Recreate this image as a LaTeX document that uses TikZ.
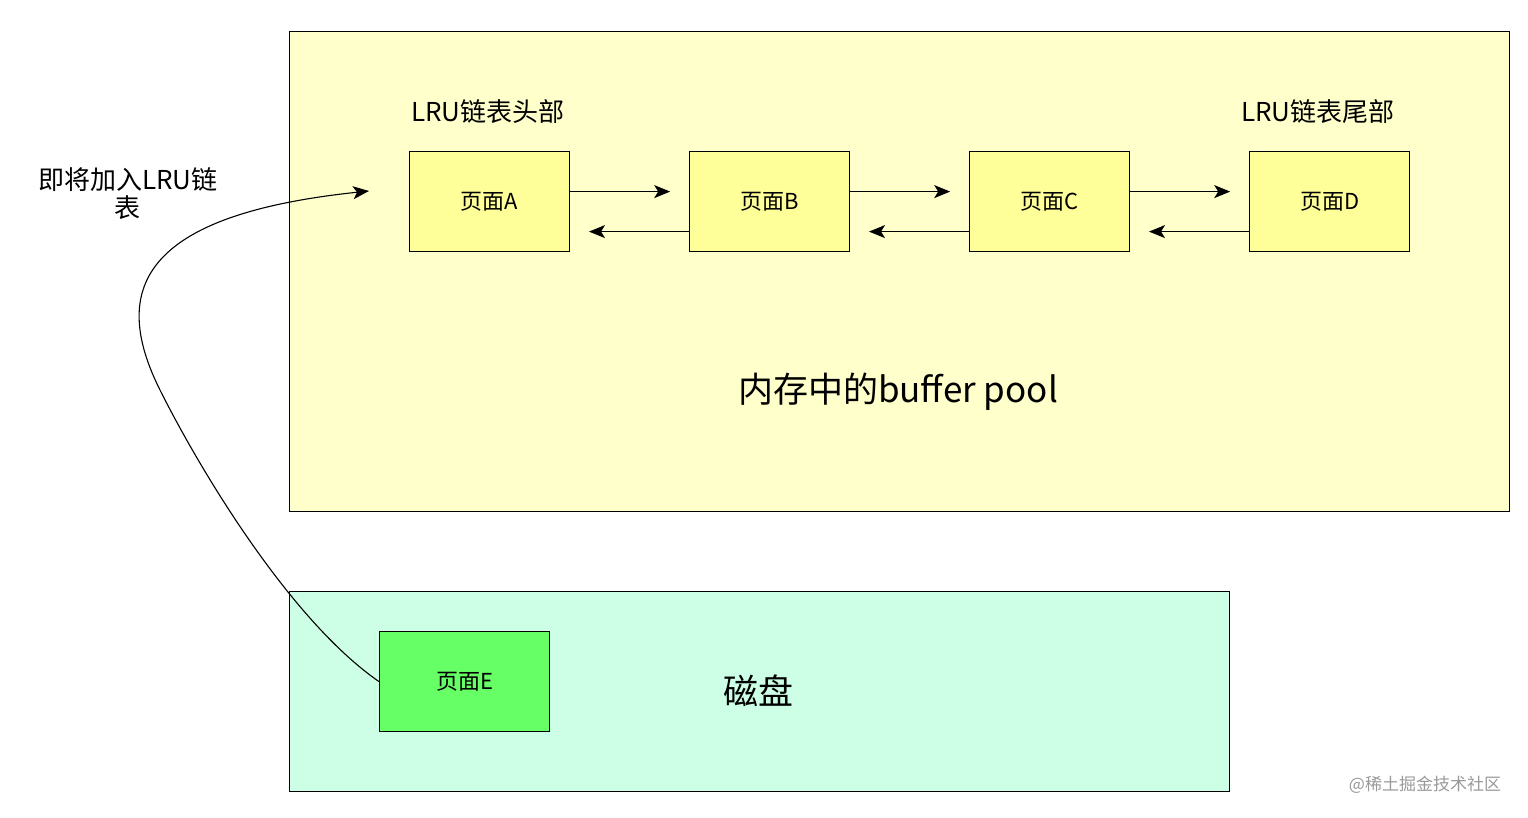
\documentclass[tikz,border=0pt]{standalone}
\usepackage{fontspec}
\setmainfont{Noto Sans CJK SC}
\usetikzlibrary{arrows.meta}
\definecolor{pool}{HTML}{FFFFCC}
\definecolor{disk}{HTML}{CCFFE6}
\definecolor{pg}{HTML}{FFFF99}
\definecolor{pge}{HTML}{66FF66}
\begin{document}
\begin{tikzpicture}[x=1pt,y=-1pt,
  box/.style={draw=black,line width=1.2pt},
  page/.style={box,fill=pg,minimum width=160pt,minimum height=100pt,anchor=north west,inner sep=0pt,font=\fontsize{22}{25}\selectfont},
  arr/.style={-{Stealth[length=16pt,width=13pt,inset=4pt]},line width=1.3pt},
  lbl/.style={font=\fontsize{26}{30}\selectfont}]
\useasboundingbox (0,0) rectangle (1528,818);
\node[box,fill=pool,minimum width=1220pt,minimum height=480pt,anchor=north west,inner sep=0pt] (pool) at (289,31) {};
\node[box,fill=disk,minimum width=940pt,minimum height=200pt,anchor=north west,inner sep=0pt] (disk) at (289,591) {};
\node[page] (A) at (409,151) {页面A};
\node[page] (B) at (689,151) {页面B};
\node[page] (C) at (969,151) {页面C};
\node[page] (D) at (1249,151) {页面D};
\node[page,fill=pge,minimum width=170pt] (E) at (379,631) {页面E};
\foreach \a/\b in {A/B,B/C,C/D}{
  \coordinate (f\a) at ([xshift=100pt,yshift=10pt]\a.east);
  \draw[arr] ([yshift=10pt]\a.east) -- (f\a);
  \coordinate (r\a) at ([xshift=-100pt,yshift=-30pt]\b.west);
  \draw[arr] ([yshift=-30pt]\b.west) -- (r\a);
}
\node[lbl] (h) at (488,112) {LRU链表头部};
\node[lbl] (t) at (1318,112) {LRU链表尾部};
\node[font=\fontsize{35}{40}\selectfont] (bp) at (898,392) {内存中的buffer pool};
\node[font=\fontsize{35}{40}\selectfont] (dk) at (758,691) {磁盘};
\node[lbl,align=center] (add) at (128,194) {即将加入LRU链\\[-2pt]表};
\coordinate (tgt) at (369,191);
\draw[arr,line width=1.1pt] (E.west) .. controls (290,620) and (200,470) .. (160,390) .. controls (110,290) and (140,215) .. (tgt);
\node[text=gray!80,font=\fontsize{17}{20}\selectfont] (wm) at (1425,785) {@稀土掘金技术社区};
\end{tikzpicture}
\end{document}
